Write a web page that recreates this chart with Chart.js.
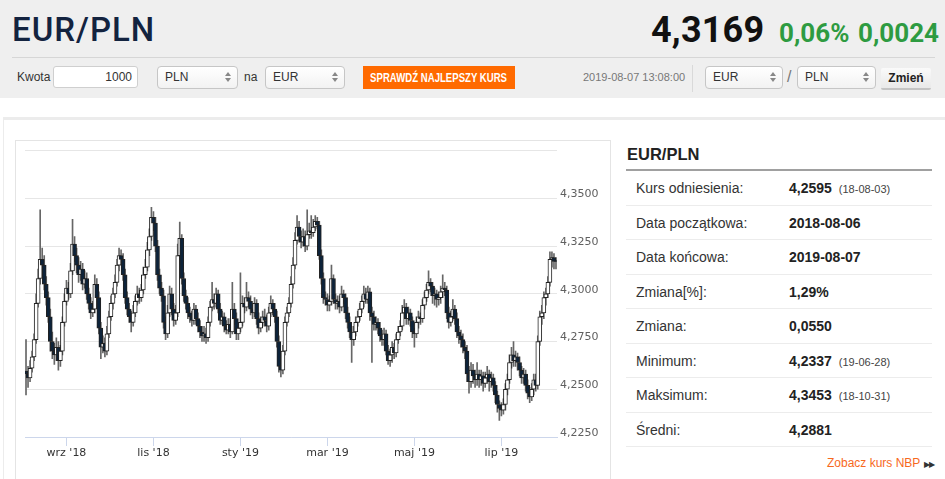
<!DOCTYPE html>
<html lang="pl">
<head>
<meta charset="utf-8">
<title>EUR/PLN</title>
<script src="https://cdn.jsdelivr.net/npm/chart.js@4.4.1/dist/chart.umd.min.js"></script>
<style>
  body { margin: 0; width: 945px; height: 479px; overflow: hidden; position: relative; background: #fff; color: #333; font-family: "Liberation Sans", Arial, sans-serif; }
  .abs { position: absolute; white-space: nowrap; }
  .top { position: absolute; left: 0; top: 0; width: 945px; height: 98px; background: #efefef; }
  .title { left: 12px; top: 13px; font: 500 33px/1 Roboto, sans-serif; color: #13233f; letter-spacing: 1px; }
  .rate { left: 651px; top: 12px; font: 700 36px/1 Roboto, sans-serif; color: #111; letter-spacing: 0.2px; }
  .chg { top: 20px; font: 700 26px/1 Roboto, sans-serif; color: #2e9b41; }
  .rule { left: 12px; top: 57px; width: 923px; height: 1px; background: #d6d6d6; }
  .lbl { font-size: 12px; line-height: 22px; top: 66px; color: #333; }
  .inp { top: 66px; height: 22px; box-sizing: border-box; border: 1px solid #cfcfcf; border-radius: 3px; background: #fff; font-size: 12px; line-height: 20px; text-align: right; padding-right: 5px; }
  .sel { top: 66px; height: 23px; box-sizing: border-box; border: 1px solid #c6c6c6; border-radius: 4px; background: linear-gradient(#fff, #f2f2f2); font-size: 12px; line-height: 21px; padding-left: 7px; }
  .arr { position: absolute; right: 6px; top: 5px; width: 6px; height: 11px; }
  .arr::before, .arr::after { content: ''; position: absolute; left: 0; border-left: 3px solid transparent; border-right: 3px solid transparent; }
  .arr::before { top: 0; border-bottom: 4px solid #888; }
  .arr::after { top: 6px; border-top: 4px solid #888; }
  .btn { left: 363px; top: 66px; width: 152px; height: 23px; background: #ff6a00; color: #fff; font-size: 12px; font-weight: 700; display: flex; justify-content: center; align-items: center; }
  .btn span { display: inline-block; flex: none; transform: scaleX(0.8); }
  .stamp { left: 583px; top: 66px; font-size: 11px; line-height: 22px; color: #777; }
  .vsep { left: 692px; top: 65px; width: 1px; height: 27px; background: #d9d9d9; }
  .zmien { left: 881px; top: 68px; width: 50px; height: 22px; box-sizing: border-box; background: linear-gradient(#fafafa, #e9e9e9); border-bottom: 2px solid #c4c4c4; border-radius: 2px; font-size: 12px; font-weight: 700; line-height: 21px; text-align: center; color: #222; }
  .outer { position: absolute; left: 3px; top: 117px; width: 960px; height: 400px; border-top: 3px solid #ececec; border-left: 1px solid #ececec; }
  .chartbox { position: absolute; left: 15px; top: 140px; width: 594px; height: 360px; border: 1px solid #e4e4e4; }
  #chart { position: absolute; left: 16px; top: 141px; }
  .ptitle { left: 627px; top: 144px; font-size: 16.5px; font-weight: 700; line-height: 20px; color: #222; }
  .pline { left: 626px; top: 169px; width: 306px; height: 2px; background: #a0a0a0; }
  .rows { position: absolute; left: 626px; top: 171px; width: 306px; }
  .row { height: 34.5px; box-sizing: border-box; border-bottom: 1px solid #ececec; position: relative; font-size: 14px; line-height: 34px; }
  .row .k { position: absolute; left: 10px; color: #333; }
  .row .v { position: absolute; left: 163px; font-weight: 700; color: #222; }
  .row .d { font-size: 11px; font-weight: 400; color: #444; margin-left: 7px; }
  .nbp { left: 827px; top: 455px; font-size: 12px; line-height: 16px; color: #f7691d; }
  .nbp span { color: #333; font-size: 8px; letter-spacing: -1px; margin-left: 4px; }
</style>
</head>
<body>
<div class="top"></div>
<div class="abs title">EUR/PLN</div>
<div class="abs rate">4,3169</div>
<div class="abs chg" style="left:779px">0,06%</div>
<div class="abs chg" style="left:858px">0,0024</div>
<div class="abs rule"></div>

<div class="abs lbl" style="left:17px">Kwota</div>
<div class="abs inp" style="left:53px;width:85px">1000</div>
<div class="abs sel" style="left:157px;width:81px">PLN<span class="arr"></span></div>
<div class="abs lbl" style="left:244px">na</div>
<div class="abs sel" style="left:265px;width:80px">EUR<span class="arr"></span></div>
<div class="abs btn"><span>SPRAWDŹ NAJLEPSZY KURS</span></div>
<div class="abs stamp">2019-08-07 13:08:00</div>
<div class="abs vsep"></div>
<div class="abs sel" style="left:705px;width:78px">EUR<span class="arr"></span></div>
<div class="abs lbl" style="left:787px;font-size:16px;color:#777">/</div>
<div class="abs sel" style="left:797px;width:79px">PLN<span class="arr"></span></div>
<div class="abs zmien">Zmień</div>

<div class="outer"></div>
<div class="chartbox"></div>
<canvas id="chart" width="593" height="338"></canvas>

<div class="abs ptitle">EUR/PLN</div>
<div class="abs pline"></div>
<div class="rows">
  <div class="row"><span class="k">Kurs odniesienia:</span><span class="v">4,2595<span class="d">(18-08-03)</span></span></div>
  <div class="row"><span class="k">Data początkowa:</span><span class="v">2018-08-06</span></div>
  <div class="row"><span class="k">Data końcowa:</span><span class="v">2019-08-07</span></div>
  <div class="row"><span class="k">Zmiana[%]:</span><span class="v">1,29%</span></div>
  <div class="row"><span class="k">Zmiana:</span><span class="v">0,0550</span></div>
  <div class="row"><span class="k">Minimum:</span><span class="v">4,2337<span class="d">(19-06-28)</span></span></div>
  <div class="row"><span class="k">Maksimum:</span><span class="v">4,3453<span class="d">(18-10-31)</span></span></div>
  <div class="row"><span class="k">Średni:</span><span class="v">4,2881</span></div>
</div>
<div class="abs nbp">Zobacz kurs NBP<span>▶▶</span></div>

<script>
// daily candles, one per weekday from startDate to endDate
const startDate = '2018-08-06';
const endDate = '2019-08-07';

const monthNames = ['sty', 'lut', 'mar', 'kwi', 'maj', 'cze', 'lip', 'sie', 'wrz', 'paź', 'lis', 'gru'];
const labelMonths = [8, 10, 0, 2, 4, 6];
const yTicks = [4.225, 4.25, 4.275, 4.3, 4.325, 4.35, 4.375];

const opens = [
  4.2595, 4.258, 4.256, 4.261, 4.267, 4.276, 4.295, 4.308, 4.318, 4.315,
  4.305, 4.298, 4.288, 4.275, 4.270, 4.268, 4.272, 4.265, 4.270, 4.285,
  4.296, 4.303, 4.300, 4.312, 4.326, 4.320, 4.315, 4.310, 4.313, 4.305,
  4.308, 4.300, 4.295, 4.290, 4.292, 4.305, 4.298, 4.282, 4.272, 4.274,
  4.270, 4.279, 4.288, 4.295, 4.300, 4.306, 4.315, 4.320, 4.318, 4.310,
  4.298, 4.292, 4.288, 4.285, 4.290, 4.296, 4.300, 4.298, 4.302, 4.310,
  4.314, 4.323, 4.330, 4.340, 4.337, 4.325, 4.310, 4.303, 4.299, 4.285,
  4.279, 4.290, 4.300, 4.292, 4.286, 4.290, 4.320, 4.329, 4.308, 4.299,
  4.295, 4.290, 4.288, 4.286, 4.292, 4.287, 4.283, 4.280, 4.278, 4.279,
  4.277, 4.285, 4.293, 4.297, 4.295, 4.300, 4.292, 4.286, 4.288, 4.283,
  4.281, 4.284, 4.280, 4.292, 4.287, 4.279, 4.282, 4.285, 4.295, 4.293,
  4.298, 4.296, 4.292, 4.290, 4.295, 4.287, 4.282, 4.285, 4.288, 4.286,
  4.283, 4.290, 4.295, 4.292, 4.288, 4.275, 4.262, 4.260, 4.270, 4.285,
  4.290, 4.295, 4.305, 4.315, 4.328, 4.335, 4.330, 4.327, 4.330, 4.325,
  4.331, 4.333, 4.332, 4.335, 4.338, 4.336, 4.320, 4.308, 4.298, 4.297,
  4.294, 4.296, 4.308, 4.297, 4.295, 4.296, 4.293, 4.300, 4.298, 4.290,
  4.285, 4.280, 4.276, 4.280, 4.285, 4.288, 4.292, 4.296, 4.300, 4.297,
  4.301, 4.290, 4.288, 4.284, 4.285, 4.282, 4.278, 4.276, 4.279, 4.270,
  4.265, 4.268, 4.272, 4.269, 4.276, 4.280, 4.283, 4.290, 4.293, 4.287,
  4.290, 4.286, 4.280, 4.279, 4.285, 4.288, 4.287, 4.294, 4.298, 4.302,
  4.306, 4.304, 4.299, 4.300, 4.297, 4.298, 4.301, 4.303, 4.302, 4.290,
  4.285, 4.288, 4.292, 4.287, 4.280, 4.278, 4.276, 4.272, 4.270, 4.258,
  4.254, 4.260, 4.257, 4.255, 4.258, 4.255, 4.257, 4.253, 4.256, 4.258,
  4.254, 4.256, 4.252, 4.247, 4.242, 4.240, 4.239, 4.242, 4.250, 4.255,
  4.264, 4.268, 4.265, 4.267, 4.264, 4.260, 4.256, 4.258, 4.252, 4.248,
  4.246, 4.250, 4.255, 4.252, 4.275, 4.288, 4.290, 4.298, 4.300, 4.306,
  4.318, 4.319, 4.317
];

const highs = [
  4.276, 4.262, 4.265, 4.270, 4.279, 4.300, 4.313, 4.344, 4.324, 4.320,
  4.309, 4.301, 4.292, 4.280, 4.274, 4.277, 4.275, 4.273, 4.288, 4.300,
  4.307, 4.306, 4.316, 4.339, 4.330, 4.324, 4.319, 4.317, 4.316, 4.312,
  4.311, 4.303, 4.298, 4.296, 4.310, 4.308, 4.301, 4.285, 4.278, 4.277,
  4.283, 4.291, 4.299, 4.303, 4.310, 4.318, 4.324, 4.323, 4.321, 4.313,
  4.301, 4.295, 4.291, 4.294, 4.299, 4.304, 4.303, 4.305, 4.314, 4.318,
  4.327, 4.334, 4.3453, 4.343, 4.340, 4.328, 4.313, 4.306, 4.302, 4.288,
  4.294, 4.304, 4.303, 4.295, 4.294, 4.326, 4.3375, 4.331, 4.311, 4.302,
  4.298, 4.293, 4.291, 4.295, 4.294, 4.290, 4.286, 4.283, 4.283, 4.282,
  4.288, 4.296, 4.306, 4.300, 4.303, 4.302, 4.295, 4.291, 4.290, 4.286,
  4.287, 4.287, 4.306, 4.295, 4.290, 4.285, 4.311, 4.299, 4.298, 4.306,
  4.301, 4.299, 4.295, 4.298, 4.297, 4.290, 4.288, 4.291, 4.292, 4.289,
  4.293, 4.299, 4.297, 4.295, 4.291, 4.278, 4.265, 4.273, 4.288, 4.293,
  4.298, 4.309, 4.319, 4.332, 4.341, 4.338, 4.333, 4.334, 4.333, 4.344,
  4.337, 4.341, 4.339, 4.341, 4.340, 4.338, 4.323, 4.311, 4.301, 4.300,
  4.299, 4.315, 4.310, 4.300, 4.299, 4.299, 4.304, 4.302, 4.300, 4.293,
  4.288, 4.283, 4.283, 4.288, 4.291, 4.295, 4.299, 4.304, 4.303, 4.304,
  4.303, 4.293, 4.291, 4.288, 4.287, 4.285, 4.281, 4.282, 4.281, 4.273,
  4.271, 4.275, 4.274, 4.279, 4.283, 4.286, 4.294, 4.297, 4.295, 4.293,
  4.292, 4.288, 4.282, 4.288, 4.291, 4.290, 4.297, 4.301, 4.305, 4.312,
  4.308, 4.306, 4.303, 4.302, 4.301, 4.304, 4.310, 4.306, 4.304, 4.293,
  4.291, 4.297, 4.294, 4.290, 4.283, 4.281, 4.279, 4.275, 4.273, 4.262,
  4.264, 4.263, 4.260, 4.264, 4.260, 4.260, 4.259, 4.259, 4.262, 4.260,
  4.259, 4.258, 4.254, 4.249, 4.244, 4.243, 4.245, 4.253, 4.258, 4.268,
  4.272, 4.275, 4.270, 4.269, 4.267, 4.262, 4.261, 4.260, 4.255, 4.251,
  4.253, 4.258, 4.258, 4.278, 4.291, 4.294, 4.301, 4.303, 4.309, 4.322,
  4.322, 4.321, 4.319
];

const lows = [
  4.247, 4.251, 4.254, 4.259, 4.265, 4.274, 4.293, 4.305, 4.312, 4.302,
  4.294, 4.285, 4.270, 4.266, 4.263, 4.265, 4.260, 4.262, 4.268, 4.283,
  4.294, 4.297, 4.298, 4.310, 4.317, 4.311, 4.306, 4.307, 4.302, 4.303,
  4.297, 4.292, 4.287, 4.288, 4.290, 4.295, 4.279, 4.266, 4.269, 4.267,
  4.268, 4.277, 4.286, 4.292, 4.298, 4.304, 4.312, 4.315, 4.307, 4.295,
  4.289, 4.285, 4.280, 4.283, 4.288, 4.294, 4.295, 4.296, 4.300, 4.308,
  4.312, 4.320, 4.328, 4.333, 4.322, 4.307, 4.300, 4.296, 4.282, 4.276,
  4.277, 4.288, 4.289, 4.283, 4.284, 4.288, 4.317, 4.305, 4.296, 4.292,
  4.287, 4.285, 4.283, 4.284, 4.284, 4.280, 4.277, 4.275, 4.275, 4.274,
  4.275, 4.283, 4.291, 4.292, 4.293, 4.290, 4.284, 4.284, 4.280, 4.279,
  4.279, 4.277, 4.279, 4.284, 4.276, 4.276, 4.280, 4.283, 4.290, 4.291,
  4.293, 4.289, 4.287, 4.288, 4.284, 4.279, 4.280, 4.283, 4.283, 4.280,
  4.281, 4.288, 4.289, 4.285, 4.272, 4.259, 4.2565, 4.258, 4.268, 4.283,
  4.288, 4.293, 4.303, 4.313, 4.326, 4.327, 4.324, 4.325, 4.322, 4.323,
  4.329, 4.329, 4.330, 4.333, 4.334, 4.318, 4.305, 4.295, 4.294, 4.291,
  4.291, 4.294, 4.295, 4.292, 4.292, 4.290, 4.291, 4.295, 4.287, 4.282,
  4.277, 4.264, 4.273, 4.278, 4.283, 4.286, 4.290, 4.293, 4.295, 4.295,
  4.286, 4.264, 4.281, 4.281, 4.279, 4.275, 4.273, 4.273, 4.268, 4.263,
  4.262, 4.264, 4.266, 4.267, 4.274, 4.278, 4.281, 4.287, 4.284, 4.284,
  4.283, 4.277, 4.272, 4.277, 4.282, 4.284, 4.285, 4.292, 4.296, 4.300,
  4.301, 4.295, 4.294, 4.293, 4.294, 4.295, 4.298, 4.299, 4.287, 4.282,
  4.283, 4.286, 4.284, 4.277, 4.274, 4.272, 4.269, 4.266, 4.254, 4.248,
  4.251, 4.253, 4.251, 4.252, 4.251, 4.252, 4.249, 4.251, 4.253, 4.249,
  4.251, 4.249, 4.243, 4.238, 4.2337, 4.236, 4.237, 4.239, 4.247, 4.253,
  4.261, 4.262, 4.262, 4.260, 4.257, 4.253, 4.253, 4.249, 4.245, 4.243,
  4.244, 4.247, 4.249, 4.250, 4.273, 4.284, 4.287, 4.294, 4.298, 4.304,
  4.314, 4.313, 4.313
];

const closes = [
  4.258, 4.256, 4.261, 4.267, 4.276, 4.295, 4.308, 4.318, 4.315, 4.305,
  4.298, 4.288, 4.275, 4.270, 4.268, 4.272, 4.265, 4.270, 4.285, 4.296,
  4.303, 4.300, 4.312, 4.326, 4.320, 4.315, 4.310, 4.313, 4.305, 4.308,
  4.300, 4.295, 4.290, 4.292, 4.305, 4.298, 4.282, 4.272, 4.274, 4.270,
  4.279, 4.288, 4.295, 4.300, 4.306, 4.315, 4.320, 4.318, 4.310, 4.298,
  4.292, 4.288, 4.285, 4.290, 4.296, 4.300, 4.298, 4.302, 4.310, 4.314,
  4.323, 4.330, 4.340, 4.337, 4.325, 4.310, 4.303, 4.299, 4.285, 4.279,
  4.290, 4.300, 4.292, 4.286, 4.290, 4.320, 4.329, 4.308, 4.299, 4.295,
  4.290, 4.288, 4.286, 4.292, 4.287, 4.283, 4.280, 4.278, 4.279, 4.277,
  4.285, 4.293, 4.297, 4.295, 4.300, 4.292, 4.286, 4.288, 4.283, 4.281,
  4.284, 4.280, 4.292, 4.287, 4.279, 4.282, 4.285, 4.295, 4.293, 4.298,
  4.296, 4.292, 4.290, 4.295, 4.287, 4.282, 4.285, 4.288, 4.286, 4.283,
  4.290, 4.295, 4.292, 4.288, 4.275, 4.262, 4.260, 4.270, 4.285, 4.290,
  4.295, 4.305, 4.315, 4.328, 4.335, 4.330, 4.327, 4.330, 4.325, 4.331,
  4.333, 4.332, 4.335, 4.338, 4.336, 4.320, 4.308, 4.298, 4.297, 4.294,
  4.296, 4.308, 4.297, 4.295, 4.296, 4.293, 4.300, 4.298, 4.290, 4.285,
  4.280, 4.276, 4.280, 4.285, 4.288, 4.292, 4.296, 4.300, 4.297, 4.301,
  4.290, 4.288, 4.284, 4.285, 4.282, 4.278, 4.276, 4.279, 4.270, 4.265,
  4.268, 4.272, 4.269, 4.276, 4.280, 4.283, 4.290, 4.293, 4.287, 4.290,
  4.286, 4.280, 4.279, 4.285, 4.288, 4.287, 4.294, 4.298, 4.302, 4.306,
  4.304, 4.299, 4.300, 4.297, 4.298, 4.301, 4.303, 4.302, 4.290, 4.285,
  4.288, 4.292, 4.287, 4.280, 4.278, 4.276, 4.272, 4.270, 4.258, 4.254,
  4.260, 4.257, 4.255, 4.258, 4.255, 4.257, 4.253, 4.256, 4.258, 4.254,
  4.256, 4.252, 4.247, 4.242, 4.240, 4.239, 4.242, 4.250, 4.255, 4.264,
  4.268, 4.265, 4.267, 4.264, 4.260, 4.256, 4.258, 4.252, 4.248, 4.246,
  4.250, 4.255, 4.252, 4.275, 4.288, 4.290, 4.298, 4.300, 4.306, 4.318,
  4.319, 4.317, 4.3169
];

// weekday list between two dates (UTC so no timezone surprises)
function weekdays(from, to) {
  const out = [];
  const d = new Date(from + 'T00:00:00Z');
  const end = new Date(to + 'T00:00:00Z');
  while (d <= end) {
    const wd = d.getUTCDay();
    if (wd !== 0 && wd !== 6) out.push(new Date(d));
    d.setUTCDate(d.getUTCDate() + 1);
  }
  return out;
}

const days = weekdays(startDate, endDate);
const dayLabels = days.map(d => d.toISOString().slice(0, 10));

// month label on the first trading day of every other month
const tickText = days.map((d, i) => {
  const m = d.getUTCMonth();
  const first = i === 0 || days[i - 1].getUTCMonth() !== m;
  if (i === 0 || !first || !labelMonths.includes(m)) return '';
  return monthNames[m] + " '" + String(d.getUTCFullYear()).slice(2);
});

const bodies = opens.map((o, i) => [o, closes[i]]);
const wicks = lows.map((l, i) => [l, highs[i]]);
const bodyFill = closes.map((c, i) => (c >= opens[i] ? '#ffffff' : '#0d233a'));

const axisFont = { family: 'DejaVu Sans', size: 11 };

new Chart(document.getElementById('chart'), {
  type: 'bar',
  data: {
    labels: dayLabels,
    datasets: [
      {
        data: bodies,
        grouped: false,
        order: 1,
        barThickness: 4,
        minBarLength: 1,
        borderWidth: 1,
        borderSkipped: false,
        borderColor: '#222222',
        backgroundColor: bodyFill
      },
      {
        data: wicks,
        grouped: false,
        order: 2,
        barThickness: 1,
        borderWidth: 0,
        backgroundColor: '#666666'
      }
    ]
  },
  options: {
    responsive: false,
    animation: false,
    devicePixelRatio: 1,
    layout: { padding: { left: 9, top: 9, right: 0, bottom: 0 } },
    plugins: { legend: { display: false }, tooltip: { enabled: false } },
    scales: {
      x: {
        offset: true,
        grid: {
          drawOnChartArea: false,
          offset: false,
          tickLength: 9,
          tickColor: ctx => (tickText[ctx.index] ? '#ccd6eb' : 'rgba(0,0,0,0)')
        },
        border: { color: '#ccd6eb' },
        ticks: {
          autoSkip: false,
          maxRotation: 0,
          padding: 1,
          color: '#333333',
          font: axisFont,
          callback: (v, i) => tickText[i]
        },
        afterFit: axis => { axis.height = 42; }
      },
      y: {
        position: 'right',
        min: yTicks[0],
        max: yTicks[yTicks.length - 1],
        grid: { color: '#e6e6e6', drawTicks: false },
        border: { display: false },
        afterBuildTicks: axis => { axis.ticks = yTicks.map(v => ({ value: v })); },
        ticks: {
          padding: 3,
          labelOffset: -4,
          color: '#606060',
          font: axisFont,
          callback: v => (v > 4.37 ? '' : v.toFixed(4).replace('.', ','))
        },
        afterFit: axis => { axis.width = 52; }
      }
    }
  }
});
</script>
</body>
</html>
